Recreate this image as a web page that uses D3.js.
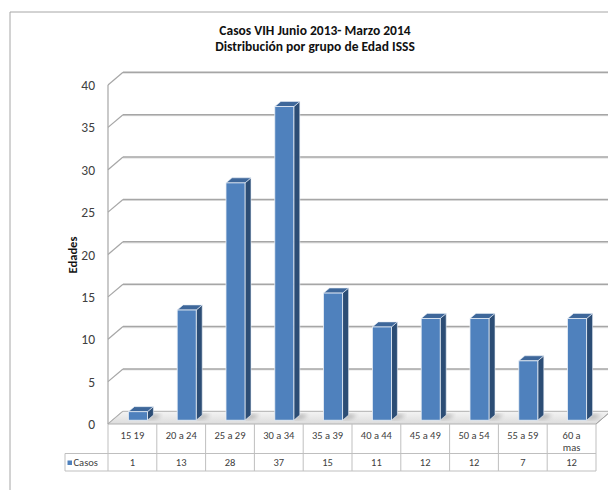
<!DOCTYPE html>
<html>
<head>
<meta charset="utf-8">
<script src="https://cdn.jsdelivr.net/npm/d3@7"></script>
<style>
  body { margin: 0; background: #fff; }
  svg text { font-family: Carlito, Calibri, Lato, sans-serif; }
</style>
</head>
<body>
<div id="chart"></div>
<script>
// data
const categories = ["15 19", "20 a 24", "25 a 29", "30 a 34", "35 a 39", "40 a 44", "45 a 49", "50 a 54", "55 a 59", "60 a mas"];
const casos = [1, 13, 28, 37, 15, 11, 12, 12, 7, 12];
const yTicks = [0, 5, 10, 15, 20, 25, 30, 35, 40];
const seriesName = "Casos";
const titleLines = ["Casos VIH Junio 2013- Marzo 2014", "Distribución por grupo de Edad ISSS"];

const W = 608, H = 490;
const svg = d3.select('#chart').append('svg')
  .attr('width', W).attr('height', H);

const defs = svg.append('defs');
defs.append('filter').attr('id', 'blur')
  .append('feGaussianBlur').attr('stdDeviation', 2);
const fg = defs.append('linearGradient').attr('id', 'floorGrad')
  .attr('x1', 0).attr('y1', 0).attr('x2', 0).attr('y2', 1);
fg.append('stop').attr('offset', '0%').style('stop-color', '#f4f4f4');
fg.append('stop').attr('offset', '100%').style('stop-color', '#dcdcdc');

// outer chart border
svg.append('path')
  .attr('d', `M10,${H + 2} L10,12 L${W + 2},12`)
  .attr('fill', 'none').attr('stroke', '#a6a6a6').attr('stroke-width', 1);

// title
svg.append('text')
  .attr('text-anchor', 'middle')
  .style('font-size', '13.5px').style('font-weight', 'bold').style('fill', '#111')
  .selectAll('tspan').data(titleLines).enter().append('tspan')
  .attr('x', 315).attr('y', (d, i) => 35 + i * 15.5)
  .text(d => d);

// scales
const x = d3.scaleBand().domain(categories).range([108, 596]);
const y = d3.scaleLinear().domain([0, 40]).range([424, 85]);

const depthX = 15, depthY = -12.7;     // wall depth
const barFront = 0.3, barDepth = 0.4;  // bar position inside the depth
const barW = 19;

// back wall grid lines + left wall diagonals
const grid = svg.append('g');
yTicks.forEach(t => {
  const yf = y(t);
  grid.append('line')
    .attr('x1', 108 + depthX).attr('x2', W + 5)
    .attr('y1', yf + depthY + 1).attr('y2', yf + depthY + 1)
    .attr('stroke', '#e6e6e6').attr('stroke-width', 1.2);
  grid.append('line')
    .attr('x1', 108).attr('y1', yf)
    .attr('x2', 108 + depthX).attr('y2', yf + depthY)
    .attr('stroke', '#a6a6a6').attr('stroke-width', 1.2);
  if (t > 0) {
    grid.append('line')
      .attr('x1', 108 + depthX).attr('x2', W + 5)
      .attr('y1', yf + depthY).attr('y2', yf + depthY)
      .attr('stroke', '#a6a6a6').attr('stroke-width', 1.4);
  }
});

// floor
const x0 = x.range()[0], x1 = x.range()[1];
svg.append('path')
  .attr('d', `M${x0},${y(0)} L${x1},${y(0)} L${x1 + depthX},${y(0) + depthY} L${x0 + depthX},${y(0) + depthY} Z`)
  .attr('fill', 'url(#floorGrad)').attr('stroke', '#b0b0b0').attr('stroke-width', 1);
// right edge of floor runs off toward the (hidden) right wall
svg.append('line')
  .attr('x1', x1).attr('y1', y(0))
  .attr('x2', x1 + depthX + 2).attr('y2', y(0) + depthY - 2)
  .attr('stroke', '#a6a6a6');

// left axis line
svg.append('line')
  .attr('x1', 108).attr('x2', 108).attr('y1', y(40)).attr('y2', y(0))
  .attr('stroke', '#a6a6a6').attr('stroke-width', 1.2);

// y tick labels
svg.append('g').selectAll('text').data(yTicks).enter().append('text')
  .attr('x', 95).attr('y', d => y(d) + 5)
  .attr('text-anchor', 'end')
  .style('font-size', '13.5px').style('fill', '#404040')
  .text(d => d);

// axis title
svg.append('text')
  .attr('transform', 'translate(77,255) rotate(-90)')
  .attr('text-anchor', 'middle')
  .style('font-size', '12.5px').style('font-weight', 'bold').style('fill', '#111')
  .text('Edades');

// bars
const fx = barFront * depthX, fy = barFront * depthY;
const bx = barDepth * depthX, by = barDepth * depthY;
const bars = svg.append('g').selectAll('g').data(casos).enter().append('g');

const barLeft = (d, i) => x(categories[i]) + x.bandwidth() / 2 - barW / 2 + fx + 1;
const barTop = d => y(d) + fy;
const base = y(0) + fy;

// shadow on the floor
bars.append('path')
  .attr('d', (d, i) => {
    const l = barLeft(d, i) + barW;
    return `M${l - 2},${base} L${l + 10},${base - 2} L${l + 14},${base - 6} L${l + 4},${base - 6} Z`;
  })
  .attr('fill', '#8a8a8a').attr('opacity', 0.55).attr('filter', 'url(#blur)');

// side face
bars.append('path')
  .attr('d', (d, i) => {
    const l = barLeft(d, i) + barW;
    return `M${l},${barTop(d)} L${l + bx},${barTop(d) + by} L${l + bx},${base + by} L${l},${base} Z`;
  })
  .attr('fill', '#2c4d75').attr('stroke', '#e8eef6').attr('stroke-width', 0.6);

// top face
bars.append('path')
  .attr('d', (d, i) => {
    const l = barLeft(d, i);
    return `M${l},${barTop(d)} L${l + bx},${barTop(d) + by} L${l + barW + bx},${barTop(d) + by} L${l + barW},${barTop(d)} Z`;
  })
  .attr('fill', '#3e679a').attr('stroke', '#e8eef6').attr('stroke-width', 0.6);

// front face
bars.append('rect')
  .attr('x', barLeft)
  .attr('y', d => barTop(d))
  .attr('width', barW)
  .attr('height', d => base - barTop(d))
  .attr('fill', '#4f81bd').attr('stroke', '#e8eef6').attr('stroke-width', 0.8);

// data table
const tbl = svg.append('g');
const rowTop = y(0), rowMid = 453.5, rowBot = 471, legendX = 65;
const lineCol = '#bfbfbf';
tbl.append('line').attr('x1', legendX).attr('x2', x1).attr('y1', rowMid).attr('y2', rowMid).attr('stroke', lineCol);
tbl.append('line').attr('x1', legendX).attr('x2', x1).attr('y1', rowBot).attr('y2', rowBot).attr('stroke', lineCol);
tbl.append('line').attr('x1', legendX).attr('x2', legendX).attr('y1', rowMid).attr('y2', rowBot).attr('stroke', lineCol);
tbl.selectAll('.vline').data(d3.range(categories.length + 1)).enter().append('line')
  .attr('x1', i => x0 + i * x.bandwidth()).attr('x2', i => x0 + i * x.bandwidth())
  .attr('y1', rowTop).attr('y2', rowBot).attr('stroke', lineCol);

// category labels (wrap the long one)
tbl.selectAll('.cat').data(categories).enter().append('text')
  .attr('text-anchor', 'middle')
  .style('font-size', '10.5px').style('fill', '#404040')
  .each(function (d) {
    const cx = x(d) + x.bandwidth() / 2;
    const parts = d.length > 7 ? [d.slice(0, 4), d.slice(5)] : [d];
    d3.select(this).selectAll('tspan').data(parts).enter().append('tspan')
      .attr('x', cx).attr('y', (p, i) => 439 + i * 12).text(p => p);
  });

// values row
tbl.selectAll('.val').data(casos).enter().append('text')
  .attr('x', (d, i) => x(categories[i]) + x.bandwidth() / 2)
  .attr('y', 465.5)
  .attr('text-anchor', 'middle')
  .style('font-size', '10.5px').style('fill', '#404040')
  .text(d => d);

// legend key in the table
tbl.append('rect').attr('x', 67.5).attr('y', 460.5).attr('width', 4.5).attr('height', 4.5).attr('fill', '#4f81bd');
tbl.append('text').attr('x', 73.5).attr('y', 465.5)
  .style('font-size', '10.5px').style('fill', '#404040')
  .text(seriesName);
</script>
</body>
</html>
